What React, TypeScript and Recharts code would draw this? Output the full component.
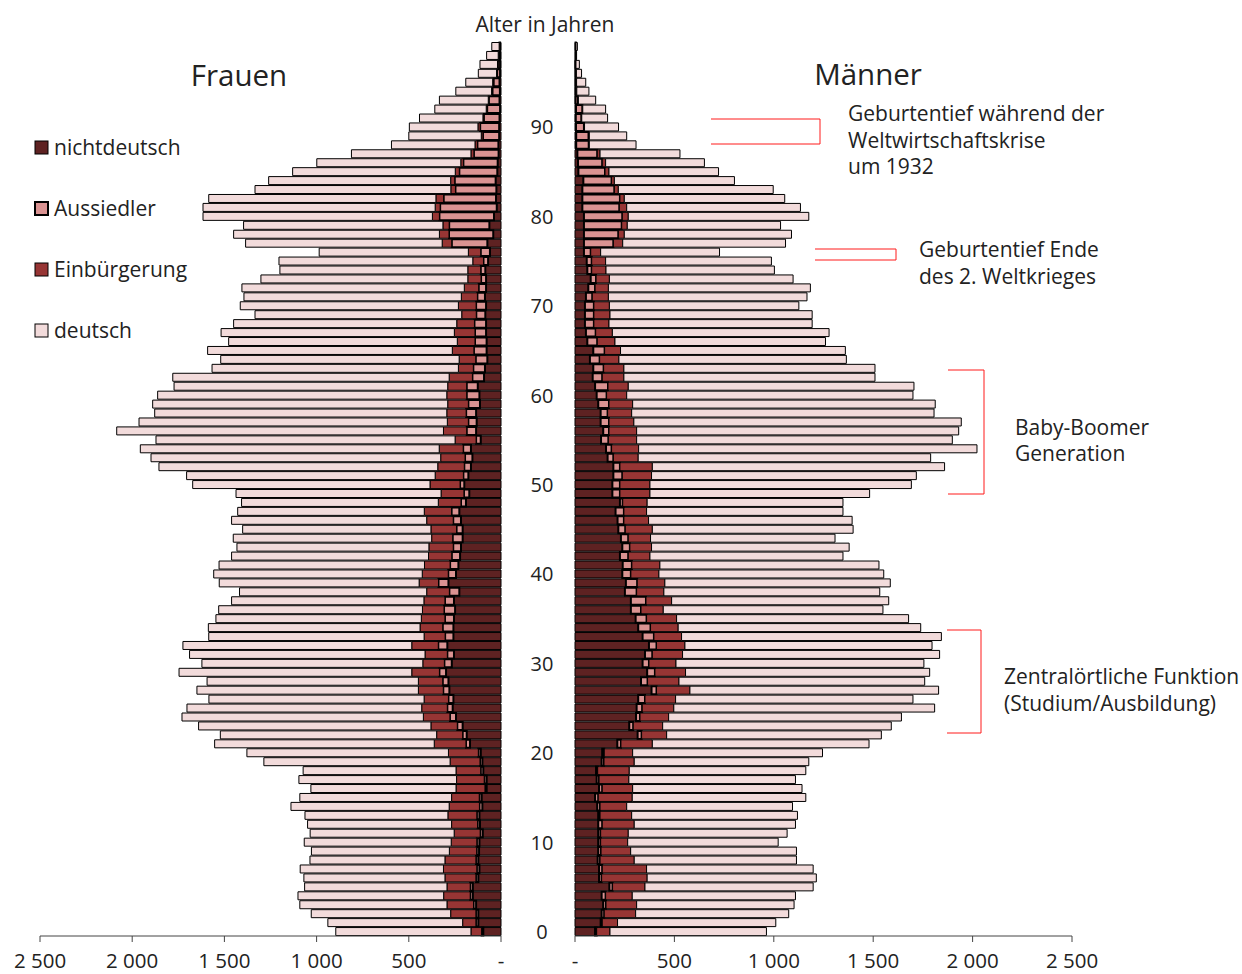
import { BarChart, Bar, XAxis, YAxis } from 'recharts'

const FONT = "'Open Sans', 'Noto Sans', sans-serif"

// Alter 0..99
const ages = Array.from({ length: 100 }, (_, i) => i)

// Frauen
const ndF = [
  96, 123, 123, 135, 153, 153, 123, 117, 123, 119,
  117, 99, 114, 117, 101, 105, 78, 78, 96, 101,
  110, 168, 186, 208, 244, 262, 258, 280, 285, 298,
  267, 255, 291, 258, 258, 255, 249, 255, 226, 285,
  244, 231, 222, 217, 208, 208, 217, 226, 190, 172,
  199, 177, 163, 155, 163, 110, 135, 132, 135, 114,
  117, 126, 92, 87, 74, 78, 78, 81, 81, 85,
  81, 87, 81, 81, 85, 70, 60, 74, 42, 63,
  38, 23, 27, 25, 29, 20, 18, 13, 14, 10,
  10, 8, 5, 8, 6, 8, 5, 5, 5, 5,
]
const auF = [
  9, 13, 13, 14, 14, 14, 13, 14, 13, 13,
  14, 14, 13, 14, 16, 13, 9, 13, 14, 13,
  13, 22, 22, 29, 33, 29, 27, 33, 31, 36,
  40, 36, 49, 45, 58, 49, 60, 49, 54, 54,
  42, 45, 45, 42, 54, 33, 42, 42, 27, 29,
  23, 27, 36, 40, 42, 25, 51, 45, 54, 63,
  69, 60, 63, 63, 63, 69, 63, 60, 63, 49,
  54, 41, 40, 27, 25, 25, 50, 193, 240, 218,
  296, 307, 284, 222, 222, 206, 186, 134, 114, 88,
  103, 85, 70, 58, 40, 32, 16, 12, 8, 3,
]
const eiF = [
  58, 72, 137, 144, 144, 126, 168, 181, 168, 148,
  139, 141, 141, 157, 164, 150, 157, 150, 134, 162,
  162, 172, 141, 143, 144, 139, 132, 135, 132, 150,
  117, 121, 144, 114, 123, 128, 117, 114, 123, 105,
  141, 139, 126, 132, 114, 139, 144, 148, 123, 124,
  163, 153, 144, 132, 130, 114, 126, 114, 105, 112,
  108, 103, 126, 81, 90, 117, 96, 112, 96, 79,
  96, 87, 78, 72, 70, 58, 67, 52, 52, 34,
  38, 27, 42, 25, 22, 22, 14, 16, 13, 9,
  12, 5, 5, 3, 5, 5, 3, 2, 2, 2,
]
const deF = [
  733, 731, 756, 798, 790, 772, 765, 777, 732, 748,
  797, 781, 781, 775, 858, 823, 787, 855, 829, 1010,
  1093, 1191, 1173, 1260, 1309, 1273, 1167, 1201, 1146, 1262,
  1198, 1277, 1241, 1168, 1148, 1114, 1105, 1043, 1015, 1084,
  1131, 1114, 1068, 1041, 1076, 1021, 1058, 1012, 1067, 1112,
  1287, 1348, 1512, 1571, 1621, 1622, 1772, 1672, 1584, 1600,
  1568, 1484, 1499, 1336, 1293, 1327, 1240, 1265, 1210, 1121,
  1183, 1179, 1206, 1122, 1019, 1051, 809, 1066, 1116, 1081,
  1244, 1259, 1232, 1062, 987, 882, 781, 648, 453, 393,
  372, 344, 279, 265, 194, 146, 99, 95, 63, 40,
]

// Männer
const ndM = [
  101, 129, 134, 142, 134, 173, 121, 121, 114, 117,
  117, 117, 117, 117, 112, 101, 121, 109, 106, 134,
  137, 213, 315, 273, 307, 310, 318, 385, 332, 363,
  340, 352, 372, 340, 318, 305, 281, 281, 251, 256,
  238, 240, 226, 238, 231, 218, 214, 204, 226, 188,
  188, 193, 193, 164, 156, 131, 142, 129, 129, 117,
  109, 101, 89, 92, 75, 92, 62, 55, 50, 50,
  50, 55, 67, 79, 62, 59, 45, 45, 45, 45,
  45, 37, 37, 37, 42, 17, 15, 12, 6, 6,
  5, 4, 5, 3, 3, 3, 3, 2, 4, 3,
]
const auM = [
  8, 8, 13, 14, 20, 16, 13, 16, 12, 14,
  12, 12, 20, 9, 14, 16, 16, 12, 8, 12,
  10, 18, 20, 20, 20, 28, 34, 25, 33, 39,
  32, 37, 38, 57, 62, 55, 51, 76, 59, 57,
  43, 46, 42, 38, 37, 35, 32, 42, 14, 38,
  38, 45, 33, 29, 28, 37, 29, 42, 35, 54,
  50, 65, 48, 52, 49, 57, 50, 49, 45, 45,
  45, 32, 34, 27, 22, 25, 34, 148, 173, 190,
  193, 186, 189, 161, 142, 134, 122, 100, 63, 62,
  40, 28, 32, 12, 5, 4, 3, 2, 1, 1,
]
const eiM = [
  67, 77, 158, 154, 134, 163, 229, 223, 172, 149,
  136, 139, 161, 159, 134, 171, 153, 150, 159, 152,
  143, 158, 126, 148, 144, 159, 154, 168, 158, 154,
  136, 152, 143, 139, 139, 151, 112, 129, 137, 139,
  141, 141, 109, 109, 112, 136, 124, 114, 123, 151,
  151, 147, 163, 125, 136, 142, 139, 125, 121, 119,
  101, 102, 109, 102, 97, 80, 89, 84, 76, 81,
  78, 81, 67, 67, 72, 70, 50, 47, 30, 28,
  30, 37, 22, 20, 14, 20, 17, 14, 3, 4,
  3, 2, 2, 2, 1, 1, 1, 1, 0, 1,
]
const deM = [
  787, 796, 770, 792, 821, 846, 851, 838, 816, 834,
  757, 799, 811, 834, 834, 873, 852, 838, 888, 878,
  955, 1090, 1080, 1150, 1171, 1312, 1194, 1251, 1236, 1228,
  1247, 1293, 1243, 1307, 1220, 1167, 1105, 1092, 1086, 1134,
  1131, 1102, 971, 994, 928, 1010, 1024, 988, 985, 1105,
  1315, 1332, 1470, 1471, 1702, 1588, 1620, 1647, 1521, 1522,
  1440, 1437, 1263, 1263, 1144, 1131, 1059, 1090, 1022, 1017,
  953, 999, 1016, 924, 847, 834, 598, 819, 841, 771,
  908, 874, 807, 779, 604, 551, 497, 402, 235, 188,
  171, 130, 115, 87, 61, 46, 26, 17, 3, 7,
]

const xTicks = [0, 500, 1000, 1500, 2000, 2500]

const SERIES = [
  { key: 'nd', name: 'nichtdeutsch', color: '#5e2222', sw: 1 },
  { key: 'au', name: 'Aussiedler', color: '#da9392', sw: 2 },
  { key: 'ei', name: 'Einbürgerung', color: '#973534', sw: 1 },
  { key: 'de', name: 'deutsch', color: '#f2dbdb', sw: 1 },
]

const frauen = ages.map((age, i) => ({ age, nd: ndF[i], au: auF[i], ei: eiF[i], de: deF[i] }))
const maenner = ages.map((age, i) => ({ age, nd: ndM[i], au: auM[i], ei: eiM[i], de: deM[i] }))

const fmtTick = (v: number) => {
  if (v === 0) return '-'
  if (v >= 1000) return `${Math.floor(v / 1000)} ${String(v % 1000).padStart(3, '0')}`
  return String(v)
}

const AgeTick = (props: any) => {
  const { x, y, payload } = props
  if (payload.value % 10 !== 0) return <g />
  return (
    <text x={x - 33} y={y} textAnchor="middle" dominantBaseline="central" fontSize={20} fill="#222" fontFamily={FONT}>
      {payload.value}
    </text>
  )
}

const bars = SERIES.map((s) => (
  <Bar
    key={s.key}
    dataKey={s.key}
    name={s.name}
    stackId="a"
    fill={s.color}
    stroke="#000"
    strokeWidth={s.sw}
    isAnimationActive={false}
  />
))

const axisTick = { fontSize: 20.5, fill: '#222', fontFamily: FONT }

const brackets = [
  '711,119 820,119 820,144 711,144',
  '815,249 896,249 896,260 815,260',
  '948,370 984,370 984,494 948,494',
  '947,630 981,630 981,733 947,733',
]

const notes = [
  { x: 848, y: 113, t: 'Geburtentief während der' },
  { x: 848, y: 140, t: 'Weltwirtschaftskrise' },
  { x: 848, y: 166, t: 'um 1932' },
  { x: 919, y: 249, t: 'Geburtentief Ende' },
  { x: 919, y: 276, t: 'des 2. Weltkrieges' },
  { x: 1015, y: 427, t: 'Baby-Boomer' },
  { x: 1015, y: 453, t: 'Generation' },
  { x: 1004, y: 676, t: 'Zentralörtliche Funktion' },
  { x: 1004, y: 703, t: '(Studium/Ausbildung)' },
]

export default function App() {
  return (
    <div style={{ position: 'absolute', left: 0, top: 0, width: 1242, height: 974, background: '#fff', fontFamily: FONT }}>
      <div style={{ position: 'absolute', left: 0, top: 0 }}>
        <BarChart
          width={510}
          height={974}
          data={frauen}
          layout="vertical"
          margin={{ top: 42, right: 9, bottom: 8, left: 40 }}
          barCategoryGap={0.5}
        >
          <XAxis
            type="number"
            domain={[0, 2500]}
            ticks={xTicks}
            reversed
            height={30}
            tickFormatter={fmtTick}
            tick={axisTick}
            tickSize={6}
            tickMargin={11}
            stroke="#444"
          />
          <YAxis type="category" dataKey="age" hide reversed />
          {bars}
        </BarChart>
      </div>
      <div style={{ position: 'absolute', left: 501, top: 0 }}>
        <BarChart
          width={741}
          height={974}
          data={maenner}
          layout="vertical"
          margin={{ top: 42, right: 170, bottom: 8, left: 0 }}
          barCategoryGap={0.5}
        >
          <XAxis
            type="number"
            domain={[0, 2500]}
            ticks={xTicks}
            height={30}
            tickFormatter={fmtTick}
            tick={axisTick}
            tickSize={6}
            tickMargin={11}
            stroke="#444"
          />
          <YAxis
            type="category"
            dataKey="age"
            reversed
            width={74}
            interval={0}
            axisLine={false}
            tickLine={false}
            tickSize={0}
            tickMargin={0}
            tick={<AgeTick />}
          />
          {bars}
        </BarChart>
      </div>

      <svg width={1242} height={974} style={{ position: 'absolute', left: 0, top: 0, pointerEvents: 'none' }}>
        <text x={545} y={24} textAnchor="middle" dominantBaseline="central" fontSize={21} fill="#222">Alter in Jahren</text>
        <text x={239} y={74} textAnchor="middle" dominantBaseline="central" fontSize={29.5} fill="#222">Frauen</text>
        <text x={868} y={73} textAnchor="middle" dominantBaseline="central" fontSize={29.5} fill="#222">Männer</text>
        {brackets.map((p) => (
          <polyline key={p} points={p} fill="none" stroke="#ff1a1a" strokeWidth={1} />
        ))}
        {notes.map((n) => (
          <text key={n.t} x={n.x} y={n.y} dominantBaseline="central" fontSize={21} fill="#222">{n.t}</text>
        ))}
        {SERIES.map((s, i) => (
          <g key={s.key}>
            <rect x={35} y={141 + i * 61} width={13} height={13} fill={s.color} stroke="#000" strokeWidth={s.sw} />
            <text x={54} y={147 + i * 61} dominantBaseline="central" fontSize={21} fill="#222">{s.name}</text>
          </g>
        ))}
      </svg>
    </div>
  )
}
